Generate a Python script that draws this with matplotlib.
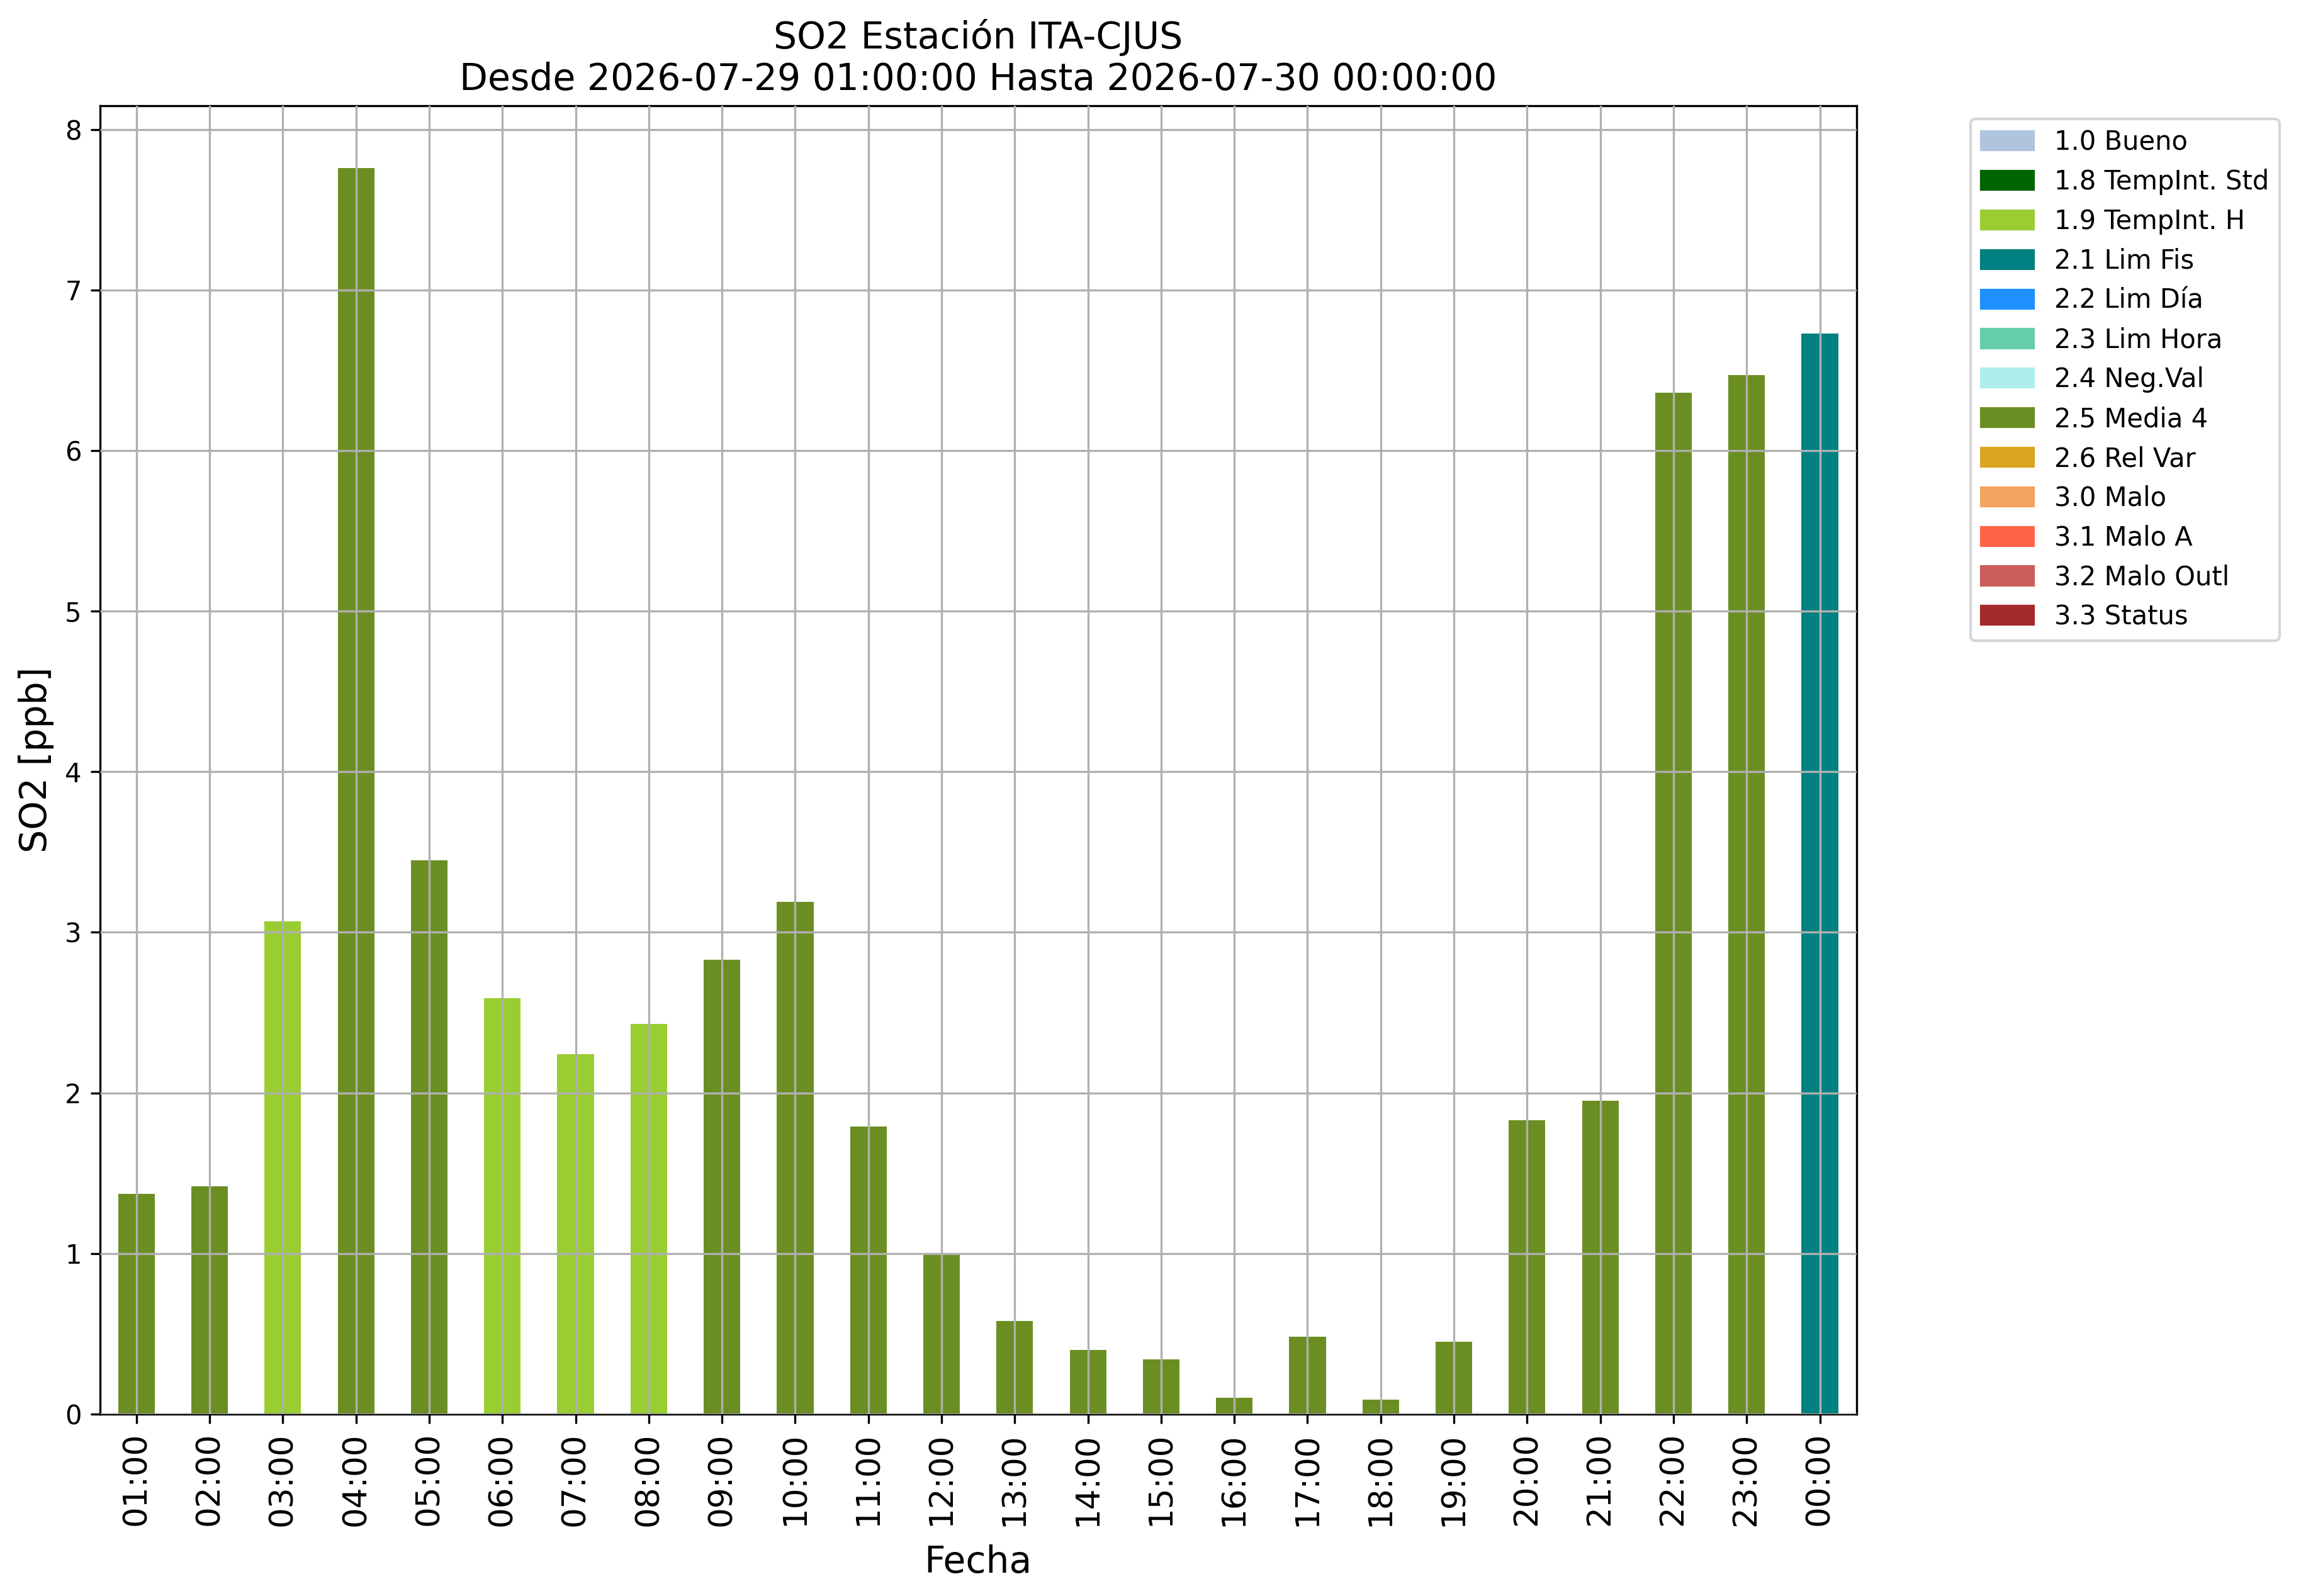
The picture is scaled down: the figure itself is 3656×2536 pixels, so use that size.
import numpy as np
import matplotlib
matplotlib.use("Agg")
import matplotlib.pyplot as plt
import matplotlib.patches as mpatches

# hourly SO2 values and their flag colour
horas = ['01:00', '02:00', '03:00', '04:00', '05:00', '06:00', '07:00', '08:00',
         '09:00', '10:00', '11:00', '12:00', '13:00', '14:00', '15:00', '16:00',
         '17:00', '18:00', '19:00', '20:00', '21:00', '22:00', '23:00', '00:00']
so2 = [1.37, 1.42, 3.07, 7.76, 3.45, 2.59, 2.24, 2.43, 2.83, 3.19, 1.79, 1.00,
       0.58, 0.40, 0.34, 0.10, 0.48, 0.09, 0.45, 1.83, 1.95, 6.36, 6.47, 6.73]
flags = ['2.5', '2.5', '1.9', '2.5', '2.5', '1.9', '1.9', '1.9', '2.5', '2.5',
         '2.5', '2.5', '2.5', '2.5', '2.5', '2.5', '2.5', '2.5', '2.5', '2.5',
         '2.5', '2.5', '2.5', '2.1']

flag_codes = ['1.0', '1.8', '1.9', '2.1', '2.2', '2.3', '2.4', '2.5', '2.6',
              '3.0', '3.1', '3.2', '3.3']
flag_names = ['1.0 Bueno', '1.8 TempInt. Std', '1.9 TempInt. H', '2.1 Lim Fis',
              '2.2 Lim Día', '2.3 Lim Hora', '2.4 Neg.Val', '2.5 Media 4',
              '2.6 Rel Var', '3.0 Malo', '3.1 Malo A', '3.2 Malo Outl', '3.3 Status']
flag_colors = ['lightsteelblue', 'darkgreen', 'yellowgreen', 'teal', 'dodgerblue',
               'mediumaquamarine', 'paleturquoise', 'olivedrab', 'goldenrod',
               'sandybrown', 'tomato', 'indianred', 'brown']

color_map = dict(zip(flag_codes, flag_colors))
bar_colors = [color_map[f] for f in flags]

fig = plt.figure(figsize=(3656 / 300, 2536 / 300), dpi=300)
ax = fig.add_axes([0.0434, 0.114, 0.8068 - 0.0434, 0.9338 - 0.114])

x = np.arange(len(horas))
ax.bar(x, so2, width=0.5, color=bar_colors)
ax.set_xlim(-0.5, len(horas) - 0.5)
ax.set_xticks(x)
ax.set_xticklabels(horas, rotation=90, fontsize=12.4)
ax.tick_params(axis='y', labelsize=10)
ax.grid(True, color='#b0b0b0', linewidth=0.8)
ax.set_axisbelow(False)

ax.set_xlabel('Fecha', fontsize=14, labelpad=7)
ax.set_ylabel('SO2 [ppb]', fontsize=14)
ax.set_title('SO2 Estación ITA-CJUS\nDesde 2026-07-29 01:00:00 Hasta 2026-07-30 00:00:00',
             fontsize=14)

handles = [mpatches.Patch(color=c, label=n) for c, n in zip(flag_colors, flag_names)]
ax.legend(handles=handles, bbox_to_anchor=(1.0575, 1), loc='upper left', fontsize=10)

fig.savefig('out.png', dpi=300)
